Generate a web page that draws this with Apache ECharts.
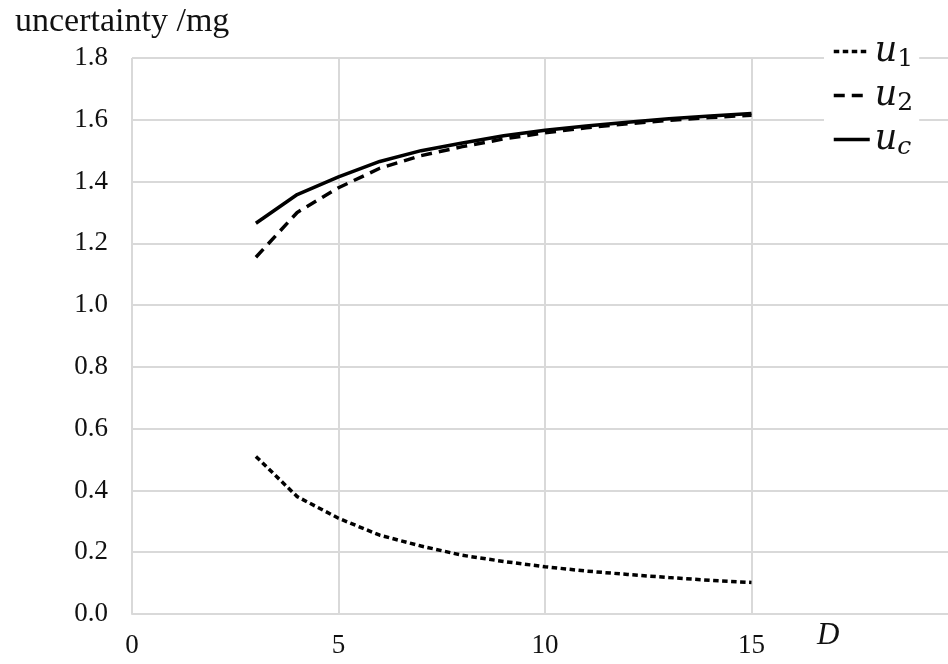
<!DOCTYPE html>
<html>
<head>
<meta charset="utf-8">
<script src="https://cdn.jsdelivr.net/npm/echarts@6/dist/echarts.min.js"></script>
<style>
  html, body { margin: 0; padding: 0; background: #fff; }
  #chart { width: 948px; height: 664px; }
</style>
</head>
<body>
<div id="chart"></div>
<script>
// values, D = 3..15
var dValues = [3, 4, 5, 6, 7, 8, 9, 10, 11, 12, 13, 14, 15];
var u1Values = [0.51, 0.38, 0.31, 0.255, 0.22, 0.19, 0.17, 0.153, 0.139, 0.128, 0.118, 0.109, 0.102];
var u2Values = [1.155, 1.30, 1.38, 1.443, 1.484, 1.513, 1.538, 1.558, 1.574, 1.587, 1.598, 1.607, 1.615];
var ucValues = [1.265, 1.358, 1.415, 1.465, 1.500, 1.525, 1.548, 1.566, 1.580, 1.592, 1.603, 1.612, 1.620];
var seriesNames = ['u1', 'u2', 'uc'];
var subscripts = { u1: '{s|1}', u2: '{s|2}', uc: '{si|c}' };

function pairs(ys) {
    return dValues.map(function (d, i) { return [d, ys[i]]; });
}

var chart = echarts.init(document.getElementById('chart'));

var serif = '"Liberation Serif", "Times New Roman", serif';
var mathFont = '"DejaVu Serif", serif';

var option = {
    backgroundColor: '#fff',
    animation: false,
    title: {
        text: 'uncertainty /mg',
        left: 10,
        top: 0,
        textStyle: { fontFamily: serif, fontSize: 34, fontWeight: 'normal', color: '#111' }
    },
    graphic: [{
        type: 'text',
        left: 817,
        top: 620,
        style: { text: 'D', fontFamily: serif, fontStyle: 'italic', fontSize: 31, fill: '#111' }
    }],
    legend: {
        orient: 'vertical',
        left: 824,
        top: 30,
        itemWidth: 36,
        itemHeight: 14,
        itemGap: 6,
        padding: [4, 6, 4, 8],
        backgroundColor: '#fff',
        itemStyle: { color: 'transparent', borderWidth: 0 },
        lineStyle: { width: 3.5 },
        data: seriesNames,
        formatter: function (name) {
            return '{u|u}' + subscripts[name];
        },
        textStyle: {
            rich: {
                u: { fontFamily: mathFont, fontStyle: 'italic', fontSize: 35, color: '#111', height: 36 },
                s: { fontFamily: mathFont, fontSize: 25, color: '#111', verticalAlign: 'bottom', padding: [16, 0, 0, 0] },
                si: { fontFamily: mathFont, fontStyle: 'italic', fontSize: 25, color: '#111', verticalAlign: 'bottom', padding: [16, 0, 0, 0] }
            }
        }
    },
    grid: { left: 132, right: -10, top: 58, bottom: 50, outerBoundsMode: 'none' },
    xAxis: {
        type: 'value',
        min: 0,
        max: 20,
        interval: 5,
        axisLine: { show: true, lineStyle: { color: '#d9d9d9', width: 2 } },
        axisTick: { show: false },
        splitLine: { show: true, lineStyle: { color: '#d9d9d9', width: 2 } },
        axisLabel: {
            margin: 18,
            fontFamily: serif,
            fontSize: 27,
            color: '#111',
            formatter: function (v) { return v < 20 ? String(v) : ''; }
        }
    },
    yAxis: {
        type: 'value',
        min: 0,
        max: 1.8,
        interval: 0.2,
        axisLine: { show: false },
        axisTick: { show: false },
        splitLine: { show: true, lineStyle: { color: '#d9d9d9', width: 2 } },
        axisLabel: {
            margin: 24,
            fontFamily: serif,
            fontSize: 27,
            color: '#111',
            formatter: function (v) { return v.toFixed(1); }
        }
    },
    series: [
        {
            name: 'u1',
            type: 'line',
            data: pairs(u1Values),
            symbol: 'none',
            itemStyle: { color: '#000' },
            lineStyle: { color: '#000', width: 3.5, type: [5.5, 3.5], cap: 'butt' }
        },
        {
            name: 'u2',
            type: 'line',
            data: pairs(u2Values),
            symbol: 'none',
            itemStyle: { color: '#000' },
            lineStyle: { color: '#000', width: 3.5, type: [11, 7], cap: 'butt' }
        },
        {
            name: 'uc',
            type: 'line',
            data: pairs(ucValues),
            symbol: 'none',
            itemStyle: { color: '#000' },
            lineStyle: { color: '#000', width: 3.5, type: 'solid' }
        }
    ]
};

chart.setOption(option);
</script>
</body>
</html>
